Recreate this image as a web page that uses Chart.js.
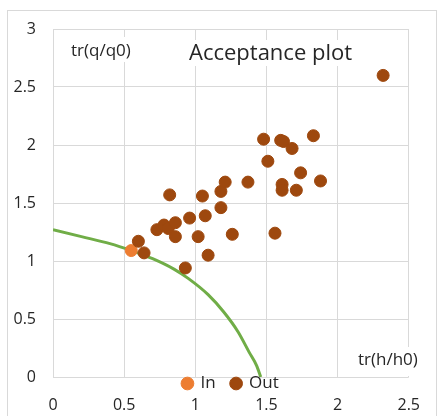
<!DOCTYPE html>
<html><head><meta charset="utf-8">
<script src="https://cdn.jsdelivr.net/npm/chart.js@4.4.1/dist/chart.umd.min.js"></script>
<style>html,body{margin:0;padding:0;background:#fff}#wrap{position:relative;width:438px;height:416px}</style>
</head><body><div id="wrap"><canvas id="c" width="438" height="416"></canvas></div>
<script>
const chartTitle = 'Acceptance plot';
const xTitle = 'tr(h/h0)';
const yTitle = 'tr(q/q0)';
const xTicks = [0, 0.5, 1, 1.5, 2, 2.5];
const xTickLabels = ['0', '0.5', '1', '1.5', '2', '2.5'];
const yTicks = [0, 0.5, 1, 1.5, 2, 2.5, 3];
const yTickLabels = ['0', '0.5', '1', '1.5', '2', '2.5', '3'];
const inX = [0.55];
const inY = [1.09];
const outX = [0.60,0.64,0.73,0.78,0.81,0.86,0.86,0.82,0.96,0.93,1.02,1.07,1.09,1.05,1.18,1.18,1.21,1.26,1.37,1.48,1.51,1.56,1.60,1.62,1.68,1.61,1.61,1.71,1.74,1.83,1.88,2.32];
const outY = [1.17,1.07,1.27,1.31,1.28,1.33,1.21,1.57,1.37,0.94,1.21,1.39,1.05,1.56,1.46,1.60,1.68,1.23,1.68,2.05,1.86,1.24,2.04,2.03,1.97,1.66,1.61,1.61,1.76,2.08,1.69,2.60];
const curveX = [0, 0.2, 0.4, 0.55, 0.7, 0.85, 0.95, 1.09, 1.2, 1.3, 1.38, 1.43, 1.46];
const curveY = [1.27, 1.21, 1.15, 1.09, 1.02, 0.93, 0.85, 0.71, 0.56, 0.39, 0.21, 0.1, 0];

const pts = (xs, ys) => xs.map((x, i) => ({x: x, y: ys[i]}));
const FONT = 'Open Sans';
const TXT = '#262626';
const GRID = '#d9d9d9';

const deco = {
  id: 'deco',
  beforeDraw(chart) {
    const c = chart.ctx;
    c.save();
    c.fillStyle = '#fff';
    c.fillRect(0, 0, chart.width, chart.height);
    c.strokeStyle = GRID;
    c.lineWidth = 1;
    c.strokeRect(7.5, 10.5, 429, 410);
    c.restore();
  },
  afterLayout(chart) {
    const l = chart.legend;
    const ca = chart.chartArea;
    const pad = l.options.labels.padding;
    const fs = l.options.labels.font.size;
    const top = (ca.bottom + 6.5) - (pad + fs / 2);
    l.top = top; l.height = pad + fs + 12; l.bottom = top + l.height;
  },
  afterDraw(chart) {
    const c = chart.ctx;
    c.save();
    c.fillStyle = '#fff';
    c.fillRect(66, 37, 72, 25);
    c.fillRect(185, 40, 177, 26);
    c.fillRect(353, 347, 72, 29);
    c.fillStyle = TXT;
    c.textBaseline = 'alphabetic';
    c.textAlign = 'left';
    c.font = '17px "' + FONT + '"';
    c.fillText(yTitle, 71, 56);
    c.fillText(xTitle, 358, 365);
    c.font = '22px "' + FONT + '"';
    c.fillText(chartTitle, 189, 60);
    c.restore();
  }
};

new Chart(document.getElementById('c'), {
  type: 'scatter',
  data: {
    datasets: [
      { label: 'In', data: pts(inX, inY), order: 1,
        backgroundColor: '#ED7D31', borderColor: '#ED7D31', pointRadius: 6, pointBorderWidth: 1, pointStyle: 'circle' },
      { label: 'Out', data: pts(outX, outY), order: 0,
        backgroundColor: '#9E480E', borderColor: '#9E480E', pointRadius: 6, pointBorderWidth: 1, pointStyle: 'circle' },
      { label: 'limit', data: pts(curveX, curveY), order: 2, showLine: true, cubicInterpolationMode: 'monotone',
        borderColor: '#70AD47', backgroundColor: '#70AD47', borderWidth: 3, pointRadius: 0 }
    ]
  },
  options: {
    responsive: false,
    animation: false,
    layout: { padding: { left: 0, right: 25, top: 29, bottom: 0 } },
    plugins: {
      title: { display: false },
      tooltip: { enabled: false },
      legend: {
        display: true, position: 'bottom', fullSize: false, maxHeight: 1,
        labels: {
          usePointStyle: true, pointStyle: 'circle', boxWidth: 9, boxHeight: 9, padding: 16,
          color: TXT, font: { family: FONT, size: 17 },
          filter: (item) => item.datasetIndex < 2,
          sort: (a, b) => a.datasetIndex - b.datasetIndex
        }
      }
    },
    scales: {
      x: {
        type: 'linear', position: 'bottom', weight: 2000, min: 0, max: 2.5,
        afterBuildTicks: (s) => { s.ticks = xTicks.map(v => ({value: v})); },
        afterFit: (s) => { s.height = 38; },
        grid: { color: GRID, lineWidth: 1, drawTicks: false },
        border: { display: false },
        ticks: { padding: 18, color: TXT, font: { family: FONT, size: 16 }, maxRotation: 0,
          callback: (v, i) => xTickLabels[i] }
      },
      y: {
        type: 'linear', position: 'left', min: 0, max: 3,
        afterBuildTicks: (s) => { s.ticks = yTicks.map(v => ({value: v})); },
        afterFit: (s) => { s.width = 53; },
        grid: { color: GRID, lineWidth: 1, drawTicks: false },
        border: { display: false },
        ticks: { padding: 17, color: TXT, font: { family: FONT, size: 16 },
          callback: (v, i) => yTickLabels[i] }
      }
    }
  },
  plugins: [deco]
});
</script></body></html>
